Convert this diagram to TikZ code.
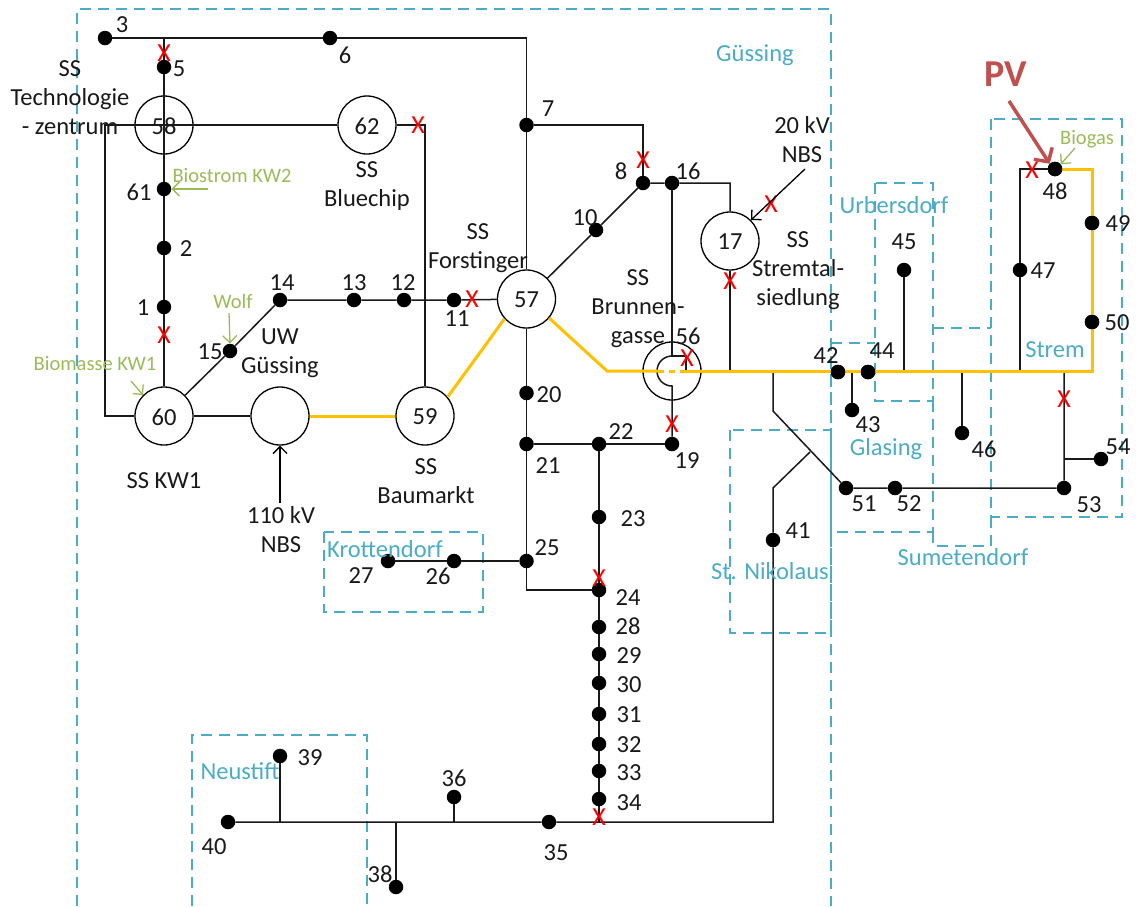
\documentclass[tikz,border=0pt]{standalone}
\usepackage{fontspec}
\setmainfont{Carlito}
\usetikzlibrary{arrows.meta}
\definecolor{region}{HTML}{4BACC6}
\definecolor{regtext}{HTML}{4BACC6}
\definecolor{gen}{HTML}{9BBB59}
\definecolor{feed}{HTML}{FFC000}
\definecolor{pvred}{HTML}{C0504D}
\tikzset{
  wire/.style={draw=black!90,line width=1.5pt,line join=miter},
  hot/.style={draw=feed,line width=3pt,line join=miter},
  hotdash/.style={draw=feed,line width=3pt,dash pattern=on 6pt off 5pt},
  zone/.style={draw=region,line width=1.5pt,dash pattern=on 11pt off 7pt},
  dot/.style={circle,fill=black,draw=none,minimum size=14.5pt,inner sep=0pt},
  sub/.style={circle,draw=black,line width=1.3pt,minimum size=58pt,inner sep=0pt},
  lab/.style={inner sep=0pt,align=center,text=black!90,yshift=-1pt,font=\fontsize{24.5}{29}\selectfont},
  reg/.style={inner sep=0pt,align=center,text=regtext,yshift=-1pt,font=\fontsize{24.5}{28}\selectfont},
  gtxt/.style={inner sep=0pt,text=gen,font=\fontsize{20.5}{24}\selectfont},
  brk/.style={inner sep=0pt,text=red,font=\fontsize{26}{26}\selectfont},
  fedarrow/.style={draw=black,line width=1.3pt,-{Straight Barb[length=7pt,width=14pt]}},
  genarrow/.style={draw=gen,line width=1.3pt,-{Straight Barb[length=7pt,width=14pt]}},
  pvarrow/.style={draw=pvred,line width=3.5pt,-{Straight Barb[length=10pt,width=22pt]}},
}
\begin{document}
\begin{tikzpicture}[x=1pt,y=-1pt]
\useasboundingbox (0,0) rectangle (1136,906);
% regions
\coordinate (ga) at (77,906); \coordinate (gb) at (77,9); \coordinate (gc) at (831,9); \coordinate (gd) at (831,906);
\draw[zone] (ga) -- (gb) -- (gc) -- (gd);
\draw[zone] (324,532) rectangle (483,612);
\draw[zone] (192,906) -- (192,735) -- (367,735) -- (367,906);
\draw[zone] (730,430) rectangle (831,633);
\draw[zone] (875,183) rectangle (933,401);
\draw[zone] (831,343) -- (875,343);
\draw[zone] (933,401) -- (933,532) -- (831,532) -- (831,343);
\draw[zone] (933,328) -- (991,328);
\draw[zone] (933,532) -- (933,546) -- (991,546) -- (991,517);
\draw[zone] (991,119) rectangle (1122,517);
% stations
\node[sub] (n58) at (164,125) {};
\node[sub] (n62) at (367,125) {};
\node[sub] (n60) at (164,416) {};
\node[sub] (uw) at (280,416) {};
\node[sub] (n59) at (425,416) {};
\node[sub] (n57) at (526.5,299) {};
\node[sub] (n17) at (730,241) {};
\node[sub] (n56) at (672,371) {};
% busbars
\foreach \n/\x/\y in {3/105/38,6/330/38,5/164/67,61/164/189,2/164/248,1/164/307,7/526.5/125,8/643/183,16/672/183,10/596/230,14/280/300,13/354/300,12/404/300,11/454/300,15/230/351,20/526.5/393,21/526.5/444,22/599/444,19/672/444,23/599/517,25/526.5/561,26/454/561,27/388/561,24/599/590,28/599/627,29/599/654,30/599/683,31/599/714,32/599/744,33/599/771,34/599/799,35/549/822,36/454/797,38/396/887,39/280/756,40/228/822,41/773/540,42/838/372,44/868/372,43/852/410,45/904/270,46/962/433,47/1020/270,48/1055/169,49/1092/223,50/1092/322,51/846/488,52/895/488,53/1064/488,54/1101/459}
  \node[dot] (n\n) at (\x,\y) {};
% free connector points
\coordinate (t7) at (526.5,38);
\coordinate (t5) at (164,38);
\coordinate (h58) at (105,125);
\coordinate (h60) at (105,416);
\coordinate (c62) at (425,125);
\coordinate (c78) at (643,125);
\coordinate (c17) at (730,183);
\coordinate (c25) at (526.5,590);
\coordinate (c34) at (599,822);
\coordinate (c41) at (773,822);
\coordinate (c41b) at (773,488);
\coordinate (c41c) at (810,452);
\coordinate (c51) at (773,411);
\coordinate (b773) at (773,371);
\coordinate (b730) at (730,371);
\coordinate (b852) at (852,371);
\coordinate (b904) at (904,371);
\coordinate (b962) at (962,371);
\coordinate (b1020) at (1020,371);
\coordinate (b1064) at (1064,371);
\coordinate (t54) at (1064,459);
\coordinate (c47) at (1020,169);
\coordinate (t39) at (280,822);
\coordinate (t38) at (396,822);
\coordinate (t36) at (454,822);
\coordinate (o1) at (607,371);
\coordinate (o2) at (658,371);
\coordinate (o3) at (686,371);
\coordinate (o4) at (1092,371);
\coordinate (o5) at (1092,169);
\coordinate (in1) at (672,356);
\coordinate (in2) at (686,356);
% black lines
\draw[wire] (n3) -- (n6) -- (t7) -- (n7) -- (n57);
\draw[wire] (t5) -- (n5) -- (n61) -- (n2) -- (n1) -- (n60);
\draw[wire] (n62) -- (h58) -- (h60) -- (n60);
\draw[wire] (n62) -- (c62) -- (n59);
\draw[wire] (n7) -- (c78) -- (n8);
\draw[wire] (n57) -- (n10) -- (n8) -- (n16) -- (c17) -- (n17);
\draw[wire] (n16) -- (in1) -- (in2) -- (o3);
\draw[wire] (in1) arc[start angle=90,end angle=270,radius=15pt] -- (n19);
\draw[wire] (n17) -- (b730);
\draw[wire] (n60) -- (uw);
\draw[wire] (n60) -- (n15) -- (n14) -- (n13) -- (n12) -- (n11) -- (n57);
\draw[wire] (n57) -- (n20) -- (n21) -- (n25) -- (c25) -- (n24);
\draw[wire] (n21) -- (n22) -- (n19);
\draw[wire] (n22) -- (n23) -- (n24) -- (n28) -- (n29) -- (n30) -- (n31) -- (n32) -- (n33) -- (n34) -- (c34);
\draw[wire] (n25) -- (n26) -- (n27);
\draw[wire] (n40) -- (n35) -- (c41) -- (n41) -- (c41b) -- (c41c);
\draw[wire] (t39) -- (n39);
\draw[wire] (t38) -- (n38);
\draw[wire] (t36) -- (n36);
\draw[wire] (b773) -- (c51) -- (n51) -- (n52) -- (n53) -- (b1064);
\draw[wire] (t54) -- (n54);
\draw[wire] (b852) -- (n43);
\draw[wire] (b904) -- (n45);
\draw[wire] (b962) -- (n46);
\draw[wire] (n48) -- (c47) -- (n47) -- (b1020);
% feeder in operation
\draw[hot] (uw) -- (n59);
\draw[hot] (n59.40) -- (n57.222);
\draw[hot] (n57.-40) -- (o1) -- (o2);
\draw[hotdash] (o2) -- (o3);
\draw[hot] (o3) -- (o4) -- (n50) -- (n49) -- (o5) -- (n48);
% redraw the dots that lie on the feeder
\node[dot] (d42) at (n42) {};
\node[dot] (d44) at (n44) {};
\node[dot] (d48) at (n48) {};
\node[dot] (d49) at (n49) {};
\node[dot] (d50) at (n50) {};
% breakers
\foreach \n/\x/\y in {a/164/53,b/418/125,c/643/160,d/472/299,e/164/335,f/771/204,g/730/281,h/687/358,i/672/424,j/599/578,k/599/817,l/1032/170,m/1064/399}
  \node[brk] (x\n) at (\x,\y) {X};
% numbers
\foreach \n/\x/\y in {3/122/24,6/345/54,5/179/68,61/139/191,2/186/248,1/143/307,14/282/282,13/354/282,12/403/282,11/457/318,15/210/351,7/548/108,8/621/170,16/688/170,10/585/217,20/549/394,21/548/465,22/621/431,19/687/460,23/633/518,25/547/547,24/628/597,28/628/625,29/629/655,30/629/684,31/629/714,32/629/744,33/629/772,34/629/802,35/556/852,36/454/777,38/380/873,39/310/757,40/214/846,41/798/530,42/826/355,44/882/350,43/868/424,45/904/241,46/984/448,47/1043/270,48/1055/190,49/1118/223,50/1117/322,51/864/503,52/909/503,53/1089/504,54/1118/446,56/688/335,58/164/125,62/367/125,60/164/416,59/425/416,57/526.5/299,17/730/241,26/438/575,27/361/575}
  \node[lab] (l\n) at (\x,\y) {\n};
% station names
\node[lab] (tTech) at (70,97) {SS\\Technologie\\- zentrum};
\node[lab] (tBlue) at (367,185) {SS\\Bluechip};
\node[lab] (tUW) at (280,352) {UW\\Güssing};
\node[lab] (tKW) at (164,480) {SS KW1};
\node[lab] (t110) at (281,529) {110 kV\\NBS};
\node[lab] (tBau) at (426,480) {SS\\Baumarkt};
\node[lab] (tFor) at (478,247) {SS\\Forstinger};
\node[lab] (t20) at (802,139) {20 kV\\NBS};
\node[lab] (tStr) at (798,270) {SS\\Stremtal-\\siedlung};
\node[lab] (tBru) at (638,308) {SS\\Brunnen-\\gasse};
% regions' names
\node[reg] (rG) at (755,54) {Güssing};
\node[reg] (rK) at (385,548) {Krottendorf};
\node[reg] (rN) at (240,770) {Neustift};
\node[reg] (rS) at (770,570) {St. Nikolaus};
\node[reg] (rU) at (894,204) {Urbersdorf};
\node[reg] (rL) at (886,448) {Glasing};
\node[reg] (rM) at (963,556) {Sumetendorf};
\node[reg] (rT) at (1055,349) {Strem};
% generators
\node[gtxt] (gB) at (232,176) {Biostrom KW2};
\node[gtxt] (gW) at (233,301) {Wolf};
\node[gtxt] (gK) at (95,364) {Biomasse KW1};
\node[gtxt] (gC) at (1087,139) {Biogas};
\node[inner sep=0pt,text=pvred,font=\fontsize{38}{38}\selectfont\bfseries] (pv) at (1006,74) {PV};
% arrows
\coordinate (aB) at (208,189);
\coordinate (aW) at (229,313);
\coordinate (aK) at (131,381);
\coordinate (aC) at (1075,148);
\coordinate (aP) at (1009,101);
\coordinate (a110) at (280,503);
\coordinate (a20) at (805,169);
\draw[genarrow] (aB) -- (n61.east);
\draw[genarrow] (aW) -- (n15.north);
\draw[genarrow] (aK) -- (n60.135);
\draw[genarrow] (aC) -- (n48.40);
\draw[pvarrow] (aP) -- (n48.135);
\draw[fedarrow] (a110) -- (uw.south);
\draw[fedarrow] (a20) -- (n17.45);
\end{tikzpicture}
\end{document}
